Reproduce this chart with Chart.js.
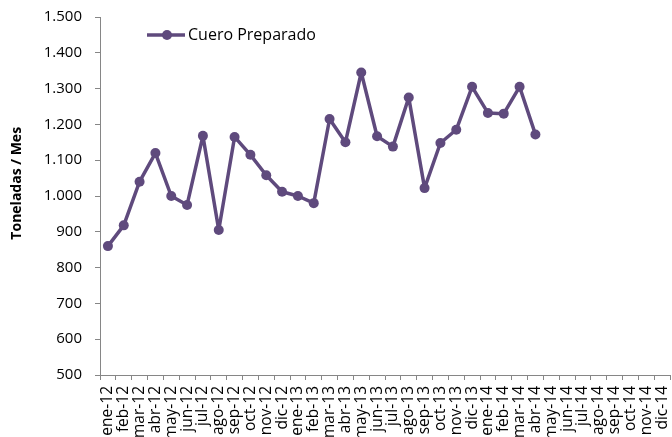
<!DOCTYPE html>
<html>
<head>
<meta charset="utf-8">
<script src="https://cdn.jsdelivr.net/npm/chart.js@4/dist/chart.umd.min.js"></script>
<style>
  html, body { margin: 0; padding: 0; background: #fff; overflow: hidden; }
  #wrap { width: 675px; height: 470px; }
</style>
</head>
<body>
<div id="wrap"><canvas id="chart-cuero"></canvas></div>
<script>
// ==================== DATOS ====================

const meses = [
    'ene-12','feb-12','mar-12','abr-12','may-12','jun-12','jul-12','ago-12','sep-12','oct-12','nov-12','dic-12',
    'ene-13','feb-13','mar-13','abr-13','may-13','jun-13','jul-13','ago-13','sep-13','oct-13','nov-13','dic-13',
    'ene-14','feb-14','mar-14','abr-14','may-14','jun-14','jul-14','ago-14','sep-14','oct-14','nov-14','dic-14'
];

// Toneladas por mes (hasta abr-14)
const cueroPreparado = [
    860, 918, 1040, 1120, 1000, 975, 1168, 905, 1165, 1115, 1058, 1012,
    1000, 980, 1215, 1150, 1345, 1167, 1138, 1275, 1022, 1148, 1185, 1305,
    1232, 1230, 1305, 1172
];

const ejeY = { min: 500, max: 1500, paso: 100 };

const COLOR = '#5f4a7d';
const FUENTE = 'Open Sans';

// ── Leyenda estilo Excel (línea + marcador) dentro del área ──
const leyendaExcel = {
    id: 'leyendaExcel',
    afterDraw(chart) {
        const ctx = chart.ctx;
        const ds = chart.data.datasets[0];
        const x0 = 147, x1 = 185, y = 35;
        ctx.save();
        ctx.strokeStyle = COLOR;
        ctx.lineWidth = 3.5;
        ctx.beginPath();
        ctx.moveTo(x0, y);
        ctx.lineTo(x1, y);
        ctx.stroke();
        ctx.fillStyle = COLOR;
        ctx.beginPath();
        ctx.arc((x0 + x1) / 2 + 1, y, 5, 0, Math.PI * 2);
        ctx.fill();
        ctx.fillStyle = '#000';
        ctx.font = `16px "${FUENTE}"`;
        ctx.textBaseline = 'middle';
        ctx.fillText(ds.label, x1 + 3, y);
        ctx.restore();
    }
};

new Chart(document.getElementById('chart-cuero'), {
    type: 'line',
    data: {
        labels: meses,
        datasets: [{
            label: 'Cuero Preparado',
            data: cueroPreparado,
            borderColor: COLOR,
            backgroundColor: COLOR,
            borderWidth: 3.5,
            borderJoinStyle: 'round',
            borderCapStyle: 'round',
            pointRadius: 5,
            pointHoverRadius: 5,
            pointBackgroundColor: COLOR,
            pointBorderWidth: 0,
            tension: 0,
        }]
    },
    options: {
        responsive: true,
        maintainAspectRatio: false,
        animation: false,
        layout: { padding: { top: 17, right: 0, left: 0, bottom: 0 } },
        plugins: {
            legend: { display: false },
            tooltip: { enabled: false }
        },
        scales: {
            x: {
                offset: true,
                grid: { display: true, drawOnChartArea: false, offset: true, tickLength: 5, color: '#868686' },
                border: { color: '#868686', width: 1 },
                ticks: {
                    autoSkip: false,
                    maxRotation: 90,
                    minRotation: 90,
                    padding: 6,
                    color: '#000',
                    font: { family: FUENTE, size: 15.5 }
                },
                afterFit: axis => {
                    axis.height = 470 - 375;
                    axis.paddingLeft = 0;
                    axis.paddingRight = 0;
                }
            },
            y: {
                min: ejeY.min,
                max: ejeY.max,
                grid: { display: true, drawOnChartArea: false, tickLength: 5, color: '#868686' },
                border: { color: '#868686', width: 1 },
                ticks: {
                    stepSize: ejeY.paso,
                    padding: 13,
                    color: '#000',
                    font: { family: FUENTE, size: 15 },
                    callback: v => Number(v).toLocaleString('de-DE')
                },
                title: {
                    display: true,
                    // espacios iniciales para subir el texto como en el original
                    text: '\u00a0'.repeat(7) + 'Toneladas / Mes',
                    color: '#000',
                    font: { family: FUENTE, size: 14, weight: 'bold' },
                    padding: { top: 9, bottom: 0 }
                },
                afterFit: axis => {
                    axis.width = 100;
                    axis.paddingTop = 0;
                    axis.paddingBottom = 0;
                }
            }
        }
    },
    plugins: [leyendaExcel]
});
</script>
</body>
</html>
